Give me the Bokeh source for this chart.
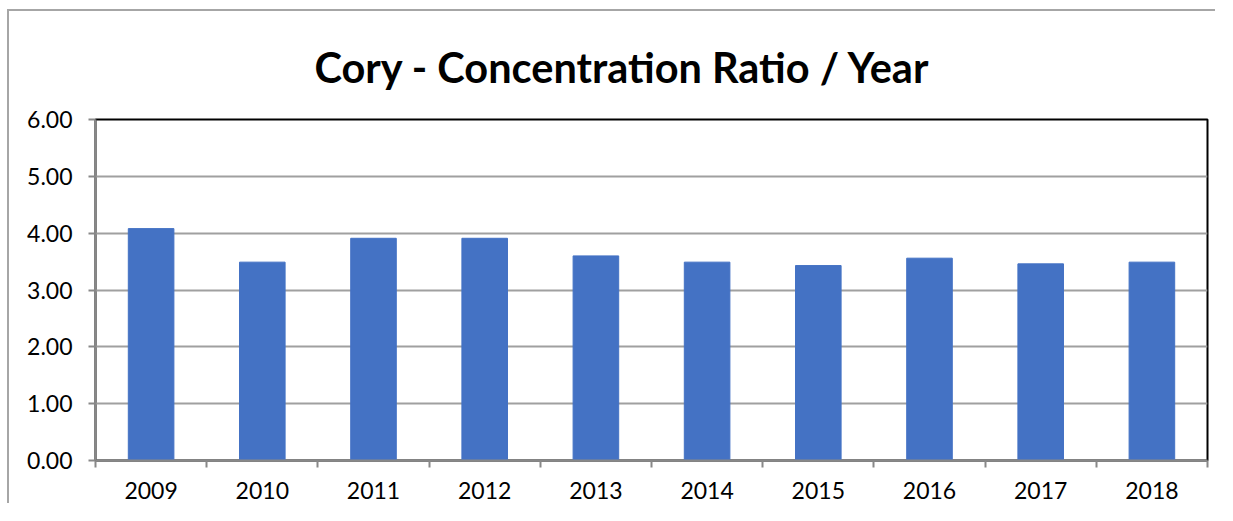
from bokeh.plotting import figure
from bokeh.models import ColumnDataSource, FixedTicker, Range1d, PrintfTickFormatter
from bokeh.embed import file_html
from bokeh.resources import INLINE

years = ["2009", "2010", "2011", "2012", "2013", "2014", "2015", "2016", "2017", "2018"]
ratios = [4.08, 3.49, 3.91, 3.91, 3.60, 3.49, 3.43, 3.56, 3.46, 3.49]
y_ticks = [0, 1, 2, 3, 4, 5, 6]
title_text = "Cory - Concentration Ratio / Year"

xs = [i + 0.5 for i in range(len(years))]
src = ColumnDataSource(dict(x=xs, top=ratios, year=years))

p = figure(width=1208, height=494, output_backend="svg", toolbar_location=None,
           x_range=Range1d(0, len(years)), y_range=Range1d(0, 6),
           min_border_left=86, min_border_right=10, min_border_top=106, min_border_bottom=45,
           title=title_text)
p.styles = {"margin-left": "7px", "margin-top": "9px",
            "border-left": "2px solid #a6a6a6", "border-top": "2px solid #a6a6a6"}

p.title.align = "left"
p.title.offset = 219
p.title.standoff = 56
p.title.text_font = "Lato"
p.title.text_font_style = "bold"
p.title.text_font_size = "41.5px"
p.title.text_color = "black"

p.vbar(x="x", top="top", width=0.41, source=src, fill_color="#4472C4", line_color="#4472C4")

p.outline_line_color = "black"
p.outline_line_width = 2

# y axis
p.yaxis.ticker = FixedTicker(ticks=y_ticks)
p.yaxis.formatter = PrintfTickFormatter(format="%.2f")
p.yaxis.axis_line_color = "#888888"
p.yaxis.axis_line_width = 2
p.yaxis.major_tick_line_color = "#888888"
p.yaxis.major_tick_line_width = 2
p.yaxis.major_tick_out = 7
p.yaxis.major_tick_in = 0
p.yaxis.minor_tick_line_color = None
p.yaxis.major_label_text_font = "Lato"
p.yaxis.major_label_text_font_size = "23px"
p.yaxis.major_label_text_color = "black"
p.yaxis.major_label_standoff = 16

# x axis
p.xaxis.ticker = FixedTicker(ticks=xs, minor_ticks=list(range(len(years) + 1)))
p.xaxis.major_label_overrides = {x: y for x, y in zip(xs, years)}
p.xaxis.axis_line_color = "#888888"
p.xaxis.axis_line_width = 2
p.xaxis.major_tick_line_color = None
p.xaxis.minor_tick_line_color = "#888888"
p.xaxis.minor_tick_line_width = 2
p.xaxis.minor_tick_out = 7
p.xaxis.minor_tick_in = 0
p.xaxis.major_label_text_font = "Lato"
p.xaxis.major_label_text_font_size = "23px"
p.xaxis.major_label_text_color = "black"
p.xaxis.major_label_standoff = 14

p.xgrid.grid_line_color = None
p.ygrid.ticker = FixedTicker(ticks=y_ticks)
p.ygrid.grid_line_color = "#a0a0a0"
p.ygrid.grid_line_width = 2

open("out.html", "w").write(file_html(p, INLINE))
